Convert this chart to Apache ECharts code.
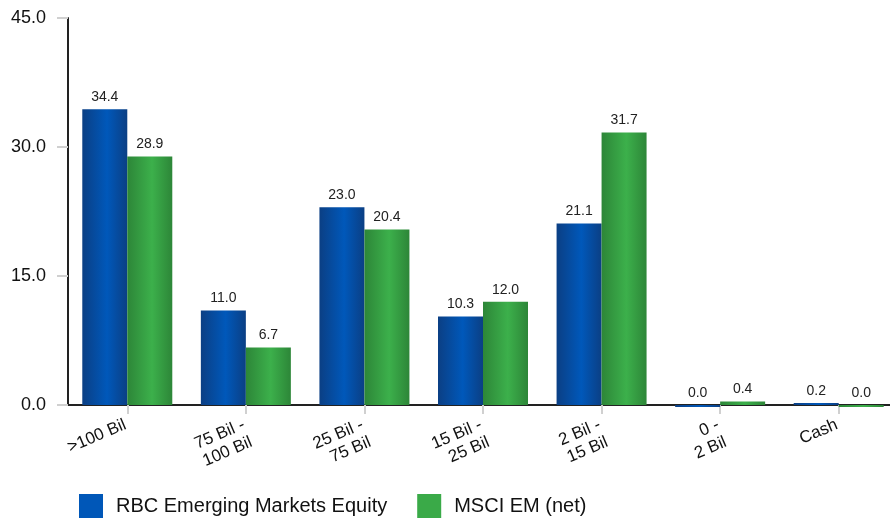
<!DOCTYPE html>
<html>
<head>
<meta charset="utf-8">
<script src="https://cdn.jsdelivr.net/npm/echarts@6/dist/echarts.min.js"></script>
<style>
  html, body { margin: 0; padding: 0; background: #fff; overflow: hidden; }
  #chart { width: 900px; height: 518px; }
</style>
</head>
<body>
<div id="chart"></div>
<script>
const categories = ['>100 Bil', '75 Bil -\n100 Bil', '25 Bil -\n75 Bil', '15 Bil -\n25 Bil', '2 Bil -\n15 Bil', '0 -\n2 Bil', 'Cash'];
// tiny negatives: those bars sit just under the axis but read 0.0
const rbcValues = [34.4, 11.0, 23.0, 10.3, 21.1, -0.04, 0.2];
const msciValues = [28.9, 6.7, 20.4, 12.0, 31.7, 0.4, -0.04];
const seriesNames = ['RBC Emerging Markets Equity', 'MSCI EM (net)'];

const FONT = '"Liberation Sans", Arial, sans-serif';

const chart = echarts.init(document.getElementById('chart'));

const grad = (edge, mid) => new echarts.graphic.LinearGradient(0, 0, 1, 0, [
    { offset: 0, color: edge },
    { offset: 0.55, color: mid },
    { offset: 1, color: edge },
]);

const fmt = (v) => (Math.abs(v) < 0.05 ? '0.0' : v.toFixed(1));

const barSeries = (name, data, edge, mid) => ({
    name: name,
    type: 'bar',
    data: data,
    barWidth: 45,
    barGap: '0%',
    barMinHeight: 2,
    clip: false,
    itemStyle: { color: grad(edge, mid) },
    label: {
        show: true,
        position: 'top',
        distance: 5,
        color: '#222',
        fontFamily: FONT,
        fontSize: 14,
        formatter: (p) => fmt(p.value),
    },
});

chart.setOption({
    animation: false,
    backgroundColor: '#fff',
    grid: { left: 68, top: 18, width: 830, height: 387 },
    xAxis: {
        type: 'category',
        data: categories,
        axisLine: { show: true, lineStyle: { color: '#222', width: 2 } },
        axisTick: { show: true, alignWithLabel: true, length: 9, lineStyle: { color: '#d0d0d0', width: 2 } },
        axisLabel: {
            rotate: 23,
            margin: 8,
            verticalAlign: 'top',
            padding: [0, 6, 0, 0],
            color: '#111',
            fontFamily: FONT,
            fontSize: 17,
            lineHeight: 19,
            interval: 0,
        },
    },
    yAxis: {
        type: 'value',
        min: 0,
        max: 45,
        interval: 15,
        axisLine: { show: true, lineStyle: { color: '#222', width: 2 } },
        axisTick: { show: true, length: 11, lineStyle: { color: '#d0d0d0', width: 2 } },
        splitLine: { show: false },
        axisLabel: {
            margin: 22,
            color: '#111',
            fontFamily: FONT,
            fontSize: 18,
            formatter: (v) => v.toFixed(1),
        },
    },
    legend: {
        left: 74,
        top: 489,
        itemWidth: 24,
        itemHeight: 24,
        itemGap: 30,
        icon: 'rect',
        textStyle: { color: '#111', fontFamily: FONT, fontSize: 20, padding: [0, 0, 0, 8] },
        data: [
            { name: seriesNames[0], itemStyle: { color: '#0057b8' } },
            { name: seriesNames[1], itemStyle: { color: '#3aaa48' } },
        ],
    },
    series: [
        barSeries(seriesNames[0], rbcValues, '#0b3f84', '#0058ba'),
        barSeries(seriesNames[1], msciValues, '#2d8638', '#3cb04b'),
    ],
});
</script>
</body>
</html>
